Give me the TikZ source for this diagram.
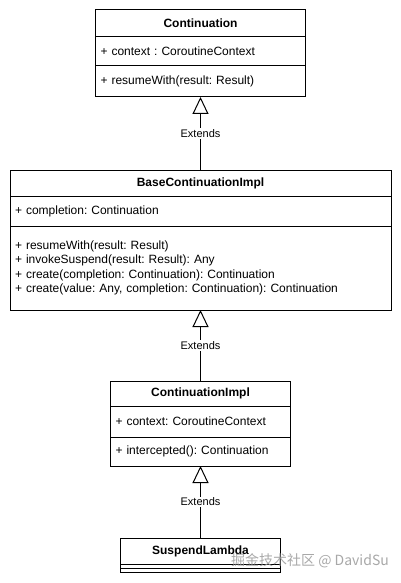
\documentclass[tikz,border=0pt]{standalone}
\usepackage{fontspec}
\setmainfont{Liberation Sans}
\newfontfamily\cjkfont{Noto Sans CJK SC}
\usetikzlibrary{arrows.meta,positioning}
\frenchspacing

\tikzset{
  classname/.style={draw, line width=1pt, outer sep=0pt, inner xsep=5pt, inner ysep=0pt,
    align=center, font=\fontsize{12}{14.4}\selectfont\bfseries},
  classpart/.style={draw, line width=1pt, outer sep=0pt, inner xsep=5pt, inner ysep=0pt,
    align=left, font=\fontsize{12}{14.4}\selectfont},
  extends/.style={line width=1pt, -{Triangle[open, width=16pt, length=17pt]}},
  extlabel/.style={fill=white, inner sep=1pt, font=\fontsize{11}{13}\selectfont},
}

\begin{document}
\begin{tikzpicture}[x=1pt, y=-1pt]
  \useasboundingbox (0,0) rectangle (401,583);

  % Continuation
  \node[classname, anchor=north, text width=200pt, minimum height=27pt] (contname) at (200.5,10) {Continuation};
  \node[classpart, below=0pt of contname, text width=200pt, minimum height=29pt] (contattr) {+ context : CoroutineContext};
  \node[classpart, below=0pt of contattr, text width=200pt, minimum height=31pt] (contmeth) {+ resumeWith(result: Result)};

  % BaseContinuationImpl
  \node[classname, anchor=north, text width=371pt, minimum height=26pt] (basename) at (200.5,170) {BaseContinuationImpl};
  \node[classpart, below=0pt of basename, text width=371pt, minimum height=30pt] (baseattr) {+ completion: Continuation};
  \node[classpart, below=0pt of baseattr, text width=371pt, minimum height=84pt] (basemeth) {+ resumeWith(result: Result)\\
    + invokeSuspend(result: Result): Any\\
    + create(completion: Continuation): Continuation\\
    + create(value: Any, completion: Continuation): Continuation};

  % ContinuationImpl
  \node[classname, anchor=north, text width=170pt, minimum height=25pt] (implname) at (200.5,381) {ContinuationImpl};
  \node[classpart, below=0pt of implname, text width=170pt, minimum height=31pt] (implattr) {+ context: CoroutineContext};
  \node[classpart, below=0pt of implattr, text width=170pt, minimum height=29pt] (implmeth) {+ intercepted(): Continuation};

  % SuspendLambda (empty compartments)
  \node[classname, anchor=north, text width=150pt, minimum height=26pt] (lambdaname) at (200.5,538) {SuspendLambda};
  \node[classpart, below=0pt of lambdaname, text width=150pt, minimum height=4pt] (lambdaattr) {};
  \node[classpart, below=0pt of lambdaattr, text width=150pt, minimum height=4pt] (lambdameth) {};

  % inheritance
  \draw[extends] (basename) -- node[extlabel] {Extends} (contmeth);
  \draw[extends] (implname) -- node[extlabel] {Extends} (basemeth);
  \draw[extends] (lambdaname) -- node[extlabel] {Extends} (implmeth);

  % watermark
  \node[text=gray!80, opacity=0.85, font=\fontsize{14}{16}\selectfont] (watermark) at (310,561) {\cjkfont 掘金技术社区 @ DavidSu};
\end{tikzpicture}
\end{document}
